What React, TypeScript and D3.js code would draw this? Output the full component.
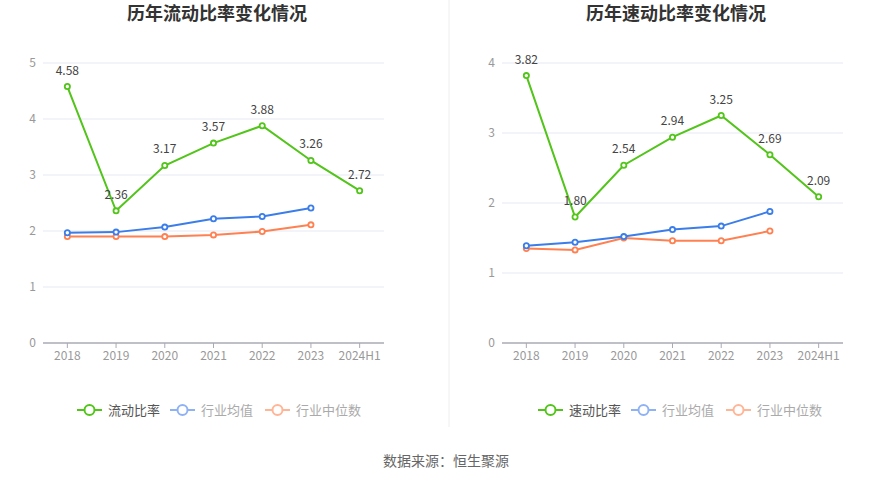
import React from "react";
import * as d3 from "d3";

const categories = ["2018", "2019", "2020", "2021", "2022", "2023", "2024H1"];

const currentRatio = [4.58, 2.36, 3.17, 3.57, 3.88, 3.26, 2.72];
const currentMean = [1.97, 1.98, 2.07, 2.22, 2.26, 2.41];
const currentMedian = [1.9, 1.9, 1.9, 1.93, 1.99, 2.11];
const currentTicks = [0, 1, 2, 3, 4, 5];

const quickRatio = [3.82, 1.8, 2.54, 2.94, 3.25, 2.69, 2.09];
const quickMean = [1.39, 1.44, 1.52, 1.62, 1.67, 1.88];
const quickMedian = [1.35, 1.33, 1.5, 1.46, 1.46, 1.6];
const quickTicks = [0, 1, 2, 3, 4];

const GREEN = "#52c41a";
const BLUE = "#3b7de9";
const ORANGE = "#ff8050";
const BLUE_L = "#8fb2f5";
const ORANGE_L = "#ffb596";
const FONT = "'Noto Sans CJK SC', 'Noto Sans', sans-serif";

type PanelProps = {
  title: string;
  titleX: number;
  x0: number;
  x1: number;
  yMax: number;
  ticks: number[];
  main: number[];
  mean: number[];
  median: number[];
  mainName: string;
  legendX: number;
};

function Panel(p: PanelProps) {
  const top = 63;
  const bottom = 343;
  const x = d3.scaleBand<string>().domain(categories).range([p.x0, p.x1]);
  const cx = (c: string) => (x(c) as number) + x.bandwidth() / 2;
  const y = d3.scaleLinear().domain([0, p.yMax]).range([bottom, top]);
  const line = d3
    .line<number>()
    .x((_, i) => cx(categories[i]))
    .y((d) => y(d));

  const series = [
    { data: p.median, color: ORANGE },
    { data: p.mean, color: BLUE },
    { data: p.main, color: GREEN },
  ];

  const legendItems = [
    { name: p.mainName, color: GREEN, text: "#555", off: 0 },
    { name: "行业均值", color: BLUE_L, text: "#aaa", off: 93 },
    { name: "行业中位数", color: ORANGE_L, text: "#aaa", off: 188 },
  ];

  return (
    <g>
      <text
        x={p.titleX}
        y={14}
        dy="0.35em"
        textAnchor="middle"
        fontSize={18}
        fontWeight="bold"
        fill="#333"
        fontFamily={FONT}
      >
        {p.title}
      </text>
      {p.ticks.map((t) => (
        <g key={t}>
          {t > 0 && (
            <line x1={p.x0} x2={p.x1} y1={y(t)} y2={y(t)} stroke="#e6e9f4" strokeWidth={1} />
          )}
          <text
            x={p.x0 - 7}
            y={y(t)}
            dy="0.35em"
            textAnchor="end"
            fontSize={12}
            fill="#999"
            fontFamily={FONT}
          >
            {t}
          </text>
        </g>
      ))}
      <line x1={p.x0} x2={p.x1} y1={bottom} y2={bottom} stroke="#aaaab4" strokeWidth={1.5} />
      {categories.map((c) => (
        <g key={c}>
          <line x1={cx(c)} x2={cx(c)} y1={bottom} y2={bottom + 5} stroke="#aaaab4" strokeWidth={1} />
          <text
            x={cx(c)}
            y={356}
            dy="0.35em"
            textAnchor="middle"
            fontSize={12}
            fill="#999"
            fontFamily={FONT}
          >
            {c}
          </text>
        </g>
      ))}
      {series.map((s, si) => (
        <g key={si}>
          <path d={line(s.data) || ""} fill="none" stroke={s.color} strokeWidth={2} />
          {s.data.map((v, i) => (
            <circle
              key={i}
              cx={cx(categories[i])}
              cy={y(v)}
              r={2.6}
              fill="#fff"
              stroke={s.color}
              strokeWidth={1.8}
            />
          ))}
        </g>
      ))}
      {p.main.map((v, i) => (
        <text
          key={i}
          x={cx(categories[i])}
          y={y(v) - 12}
          textAnchor="middle"
          fontSize={12}
          fill="#444"
          fontFamily={FONT}
        >
          {v.toFixed(2)}
        </text>
      ))}
      {legendItems.map((l) => (
        <g key={l.name} transform={`translate(${p.legendX + l.off},410)`}>
          <line x1={0} x2={25} y1={0} y2={0} stroke={l.color} strokeWidth={2} />
          <circle cx={12.5} cy={0} r={5} fill="#fff" stroke={l.color} strokeWidth={2} />
          <text x={31} y={0} dy="0.35em" fontSize={13} fill={l.text} fontFamily={FONT}>
            {l.name}
          </text>
        </g>
      ))}
    </g>
  );
}

export default function App() {
  return (
    <svg
      width={893}
      height={481}
      style={{ position: "absolute", left: 0, top: 0, background: "#fff" }}
    >
      <Panel
        title="历年流动比率变化情况"
        titleX={217}
        x0={43}
        x1={384}
        yMax={5}
        ticks={currentTicks}
        main={currentRatio}
        mean={currentMean}
        median={currentMedian}
        mainName="流动比率"
        legendX={77}
      />
      <line x1={449} x2={449} y1={0} y2={427} stroke="#eeeeee" strokeWidth={1} />
      <Panel
        title="历年速动比率变化情况"
        titleX={676}
        x0={502}
        x1={843}
        yMax={4}
        ticks={quickTicks}
        main={quickRatio}
        mean={quickMean}
        median={quickMedian}
        mainName="速动比率"
        legendX={538}
      />
      <text
        x={446}
        y={461}
        dy="0.35em"
        textAnchor="middle"
        fontSize={14}
        fill="#666"
        fontFamily={FONT}
      >
        数据来源：恒生聚源
      </text>
    </svg>
  );
}
